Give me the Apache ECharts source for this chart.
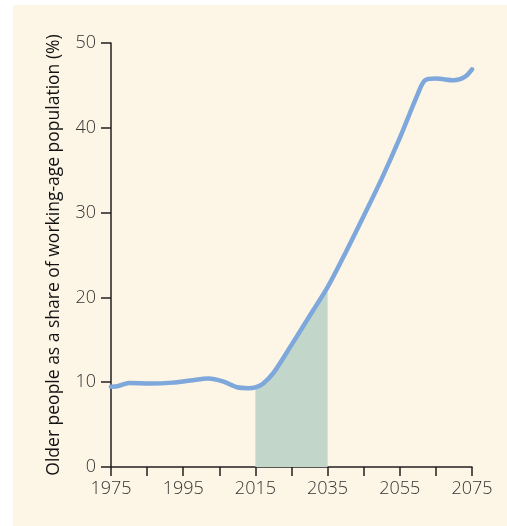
<!DOCTYPE html>
<html>
<head>
<meta charset="utf-8">
<script src="https://cdn.jsdelivr.net/npm/echarts@6/dist/echarts.min.js"></script>
<style>
  html, body { margin: 0; padding: 0; background: #ffffff; }
  #wrap { position: relative; width: 507px; height: 526px; }
  #chart { position: absolute; left: 13px; top: 5px; width: 494px; height: 521px; background: #fdf5e5; }
</style>
</head>
<body>
<div id="wrap"><div id="chart"></div></div>
<script>
const years = [1975, 1977, 1980, 1986, 1992, 1997, 2002, 2006, 2010, 2013, 2015, 2017, 2020, 2025, 2030, 2035, 2040, 2045, 2050, 2055, 2060, 2062, 2065, 2070, 2073, 2075];
const shares = [9.45, 9.55, 9.9, 9.85, 9.95, 10.2, 10.45, 10.1, 9.4, 9.3, 9.4, 9.8, 11.1, 14.4, 17.8, 21.2, 25.3, 29.6, 34.0, 38.8, 44.0, 45.6, 45.8, 45.6, 46.0, 46.9];
const shadeStart = 2015;
const shadeEnd = 2035;
const yTicks = [0, 10, 20, 30, 40, 50];
const xLabelYears = [1975, 1995, 2015, 2035, 2055, 2075];

const lineData = years.map((y, i) => [y, shares[i]]);
const shadeData = lineData.filter(d => d[0] >= shadeStart && d[0] <= shadeEnd);

const font = 'Open Sans';
const chart = echarts.init(document.getElementById('chart'));
chart.setOption({
  animation: false,
  grid: { left: 98, right: 35, top: 38, bottom: 59 },
  xAxis: {
    type: 'value',
    min: 1975,
    max: 2075,
    interval: 10,
    axisLine: { lineStyle: { color: '#231f20', width: 1.5 } },
    axisTick: { length: 9, lineStyle: { color: '#231f20', width: 1.5 } },
    splitLine: { show: false },
    axisLabel: {
      margin: 13,
      color: '#333',
      fontFamily: font,
      fontWeight: 300,
      fontSize: 18,
      formatter: v => xLabelYears.includes(v) ? String(v) : ''
    }
  },
  yAxis: {
    type: 'value',
    min: 0,
    max: 50,
    interval: 10,
    name: 'Older people as a share of working-age population (%)',
    nameLocation: 'middle',
    nameGap: 48,
    nameTextStyle: { color: '#111', fontFamily: font, fontSize: 17.5 },
    axisLine: { show: true, lineStyle: { color: '#231f20', width: 1.5 } },
    axisTick: { show: true, length: 10, lineStyle: { color: '#231f20', width: 1.5 } },
    splitLine: { show: false },
    axisLabel: {
      margin: 15,
      color: '#333',
      fontFamily: font,
      fontWeight: 300,
      fontSize: 18,
      formatter: v => yTicks.includes(v) ? String(v) : ''
    }
  },
  series: [
    {
      type: 'line',
      data: shadeData,
      smooth: 0.3,
      symbol: 'none',
      lineStyle: { width: 0 },
      areaStyle: { color: '#c3d6ca', opacity: 1 },
      z: 1
    },
    {
      type: 'line',
      data: lineData,
      smooth: 0.3,
      symbol: 'none',
      lineStyle: { color: '#7ea7dc', width: 4.5, cap: 'round' },
      z: 2
    }
  ]
});
</script>
</body>
</html>
